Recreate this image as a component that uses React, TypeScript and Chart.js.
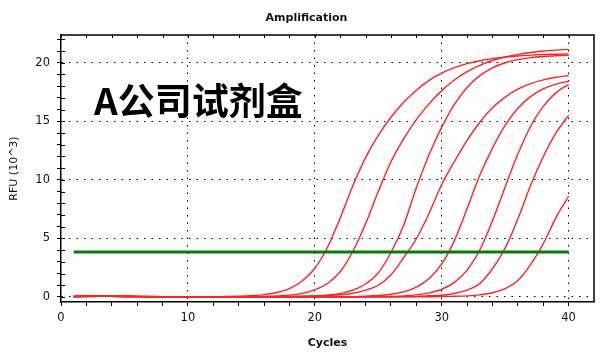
import React, { useEffect, useRef } from 'react';
import { Chart, registerables } from 'chart.js';

Chart.register(...registerables);

const cycles = [1, 2, 3, 4, 5, 6, 7, 8, 9, 10, 11, 12, 13, 14, 15, 16, 17, 18, 19, 20, 21, 22, 23, 24, 25, 26, 27, 28, 29, 30, 31, 32, 33, 34, 35, 36, 37, 38, 39, 40];

const curve1 = [0.04, 0.06, 0.08, 0.09, 0.08, 0.06, 0.04, 0.03, 0.02, 0.02,
  0.02, 0.03, 0.04, 0.06, 0.10, 0.20, 0.38, 0.72, 1.36, 2.45,
  4.25, 6.75, 9.50, 11.90, 13.80, 15.35, 16.62, 17.66, 18.50, 19.12,
  19.58, 19.92, 20.17, 20.35, 20.48, 20.58, 20.65, 20.70, 20.73, 20.76];
const curve2 = [0.02, 0.03, 0.05, 0.07, 0.07, 0.05, 0.04, 0.03, 0.03, 0.02,
  0.02, 0.02, 0.03, 0.03, 0.04, 0.05, 0.09, 0.16, 0.31, 0.60,
  1.15, 2.15, 3.90, 6.25, 9.00, 11.55, 13.50, 15.15, 16.49, 17.62,
  18.53, 19.24, 19.78, 20.19, 20.49, 20.72, 20.88, 21.00, 21.08, 21.14];
const curve3 = [0.05, 0.07, 0.06, 0.05, 0.04, 0.03, 0.02, 0.02, 0.01, 0.01,
  0.01, 0.02, 0.02, 0.02, 0.02, 0.02, 0.02, 0.03, 0.04, 0.08,
  0.16, 0.31, 0.59, 1.11, 2.06, 3.80, 6.13, 9.32, 12.14, 14.50,
  16.44, 17.89, 18.90, 19.57, 20.00, 20.27, 20.44, 20.54, 20.60, 20.64];
const curve4 = [0.03, 0.05, 0.06, 0.06, 0.05, 0.04, 0.03, 0.03, 0.02, 0.02,
  0.02, 0.02, 0.02, 0.02, 0.02, 0.02, 0.03, 0.04, 0.06, 0.09,
  0.13, 0.19, 0.32, 0.58, 1.00, 1.90, 3.35, 4.97, 7.13, 9.60,
  11.57, 13.38, 14.92, 16.15, 17.07, 17.74, 18.21, 18.54, 18.76, 18.91];
const curve5 = [0.06, 0.08, 0.07, 0.05, 0.04, 0.03, 0.02, 0.02, 0.02, 0.01,
  0.01, 0.01, 0.01, 0.01, 0.01, 0.01, 0.01, 0.01, 0.01, 0.02,
  0.02, 0.02, 0.03, 0.06, 0.12, 0.23, 0.44, 0.84, 1.56, 2.82,
  4.81, 7.54, 10.39, 12.71, 14.65, 16.11, 17.11, 17.76, 18.17, 18.42];
const curve6 = [0.02, 0.04, 0.05, 0.05, 0.04, 0.03, 0.03, 0.02, 0.02, 0.02,
  0.01, 0.01, 0.01, 0.01, 0.01, 0.01, 0.01, 0.01, 0.01, 0.01,
  0.01, 0.02, 0.02, 0.02, 0.03, 0.05, 0.09, 0.18, 0.35, 0.66,
  1.25, 2.29, 4.01, 6.51, 9.40, 12.20, 14.56, 16.27, 17.43, 18.16];
const curve7 = [0.07, 0.10, 0.09, 0.06, 0.04, 0.03, 0.02, 0.02, 0.01, 0.01,
  0.01, 0.01, 0.01, 0.01, 0.01, 0.01, 0.01, 0.01, 0.01, 0.01,
  0.01, 0.01, 0.01, 0.01, 0.02, 0.02, 0.03, 0.05, 0.10, 0.15,
  0.30, 0.58, 1.15, 2.41, 4.17, 6.66, 9.51, 11.97, 14.01, 15.51];
const curve8 = [0.03, 0.05, 0.06, 0.05, 0.04, 0.03, 0.02, 0.02, 0.01, 0.01,
  0.01, 0.01, 0.01, 0.01, 0.01, 0.01, 0.01, 0.01, 0.01, 0.01,
  0.01, 0.01, 0.01, 0.01, 0.01, 0.01, 0.01, 0.02, 0.02, 0.03,
  0.06, 0.09, 0.18, 0.36, 0.72, 1.40, 2.77, 4.54, 6.77, 8.60];

const curves = [curve1, curve2, curve3, curve4, curve5, curve6, curve7, curve8];

const thresholdCycles = [1, 40];
const thresholdValue = 3.85;

const xTickValues = [0, 2, 4, 6, 8, 10, 12, 14, 16, 18, 20, 22, 24, 26, 28, 30, 32, 34, 36, 38, 40];
const xLabelValues = [0, 10, 20, 30, 40];
const yTickValues = [0, 1, 2, 3, 4, 5, 6, 7, 8, 9, 10, 11, 12, 13, 14, 15, 16, 17, 18, 19, 20, 21, 22];
const yLabelValues = [0, 5, 10, 15, 20];

const chartTitle = 'Amplification';
const xTitle = 'Cycles';
const yTitle = 'RFU (10^3)';
const overlayText = 'A公司试剂盒';

const W = 613;
const H = 359;

const decorPlugin = {
  id: 'decor',
  afterDraw(chart: any) {
    const { ctx, chartArea, scales } = chart;
    const { left, right, top, bottom } = chartArea;
    ctx.save();
    ctx.strokeStyle = '#000';
    ctx.lineWidth = 1.5;
    ctx.beginPath();
    ctx.moveTo(left, top);
    ctx.lineTo(right, top);
    ctx.lineTo(right, bottom);
    ctx.stroke();
    ctx.lineWidth = 1;
    ctx.beginPath();
    yTickValues.forEach((v) => {
      const y = Math.round(scales.y.getPixelForValue(v)) + 0.5;
      ctx.moveTo(left, y);
      ctx.lineTo(left + 4, y);
    });
    xTickValues.forEach((v) => {
      const x = Math.round(scales.x.getPixelForValue(v)) + 0.5;
      ctx.moveTo(x, top);
      ctx.lineTo(x, top + 3);
    });
    ctx.stroke();
    ctx.fillStyle = '#111';
    ctx.font = 'bold 11px "DejaVu Sans"';
    ctx.textAlign = 'center';
    ctx.textBaseline = 'middle';
    ctx.fillText(chartTitle, W / 2, 18);
    ctx.fillStyle = '#000';
    ctx.font = 'bold 37px "Noto Sans CJK SC"';
    ctx.textAlign = 'left';
    ctx.textBaseline = 'alphabetic';
    ctx.fillText(overlayText, 94, 115);
    ctx.restore();
  },
};

export default function App() {
  const ref = useRef<HTMLCanvasElement | null>(null);

  useEffect(() => {
    if (!ref.current) return;
    const datasets: any[] = [
      {
        label: 'Threshold',
        data: thresholdCycles.map((c) => ({ x: c, y: thresholdValue })),
        borderColor: '#077a07',
        borderWidth: 3,
        pointRadius: 0,
        fill: false,
      },
      ...curves.map((vals, i) => ({
        label: 'Well ' + (i + 1),
        data: cycles.map((c, j) => ({ x: c, y: vals[j] })),
        borderColor: '#ff2222',
        borderWidth: 1.4,
        pointRadius: 0,
        fill: false,
        cubicInterpolationMode: 'monotone',
      })),
    ];

    const chart = new Chart(ref.current, {
      type: 'line',
      data: { datasets },
      options: {
        animation: false,
        responsive: false,
        devicePixelRatio: 1,
        layout: { padding: { top: 35, right: 19, bottom: 0, left: 0 } },
        plugins: {
          legend: { display: false },
          title: { display: false },
          tooltip: { enabled: false },
        },
        scales: {
          x: {
            type: 'linear',
            min: 0,
            max: 42,
            afterBuildTicks: (axis: any) => {
              axis.ticks = xTickValues.map((v) => ({ value: v }));
            },
            afterFit: (axis: any) => {
              axis.height = 57;
            },
            ticks: {
              autoSkip: false,
              maxRotation: 0,
              padding: 5,
              color: '#111',
              font: { family: 'DejaVu Sans', size: 11.5 },
              callback: (v: any) => (xLabelValues.includes(Number(v)) ? String(v) : ''),
            },
            grid: {
              color: (ctx: any) => (ctx.tick && xLabelValues.includes(ctx.tick.value) && ctx.tick.value !== 0 ? '#000' : 'rgba(0,0,0,0)'),
              lineWidth: 1,
              tickColor: '#000',
              tickWidth: 1,
              tickLength: 4,
              drawTicks: true,
            },
            border: { display: true, color: '#000', width: 1.5, dash: [1.5, 6] },
            title: {
              display: true,
              text: xTitle,
              color: '#111',
              font: { family: 'DejaVu Sans', size: 11, weight: 'bold' },
              padding: { top: 0, bottom: 9 },
            },
          },
          y: {
            type: 'linear',
            min: -0.43,
            max: 22.37,
            afterBuildTicks: (axis: any) => {
              axis.ticks = yTickValues.map((v) => ({ value: v }));
            },
            afterFit: (axis: any) => {
              axis.width = 61;
            },
            ticks: {
              autoSkip: false,
              padding: 7,
              color: '#111',
              font: { family: 'DejaVu Sans', size: 11.5 },
              callback: (v: any) => (yLabelValues.includes(Number(v)) ? String(v) : ''),
            },
            grid: {
              color: (ctx: any) => (ctx.tick && yLabelValues.includes(ctx.tick.value) ? '#000' : 'rgba(0,0,0,0)'),
              lineWidth: 1,
              tickColor: '#000',
              tickWidth: 1,
              tickLength: 4,
              drawTicks: true,
            },
            border: { display: true, color: '#000', width: 1.5, dash: [1.5, 6] },
            title: {
              display: true,
              text: yTitle,
              color: '#111',
              font: { family: 'DejaVu Sans', size: 11 },
              padding: { top: 8, bottom: 0 },
            },
          },
        },
      },
      plugins: [decorPlugin],
    } as any);

    return () => chart.destroy();
  }, []);

  return (
    <div style={{ position: 'absolute', left: 0, top: 0, width: W, height: H, background: '#fff' }}>
      <canvas ref={ref} width={W} height={H} style={{ width: W, height: H, display: 'block' }} />
    </div>
  );
}
